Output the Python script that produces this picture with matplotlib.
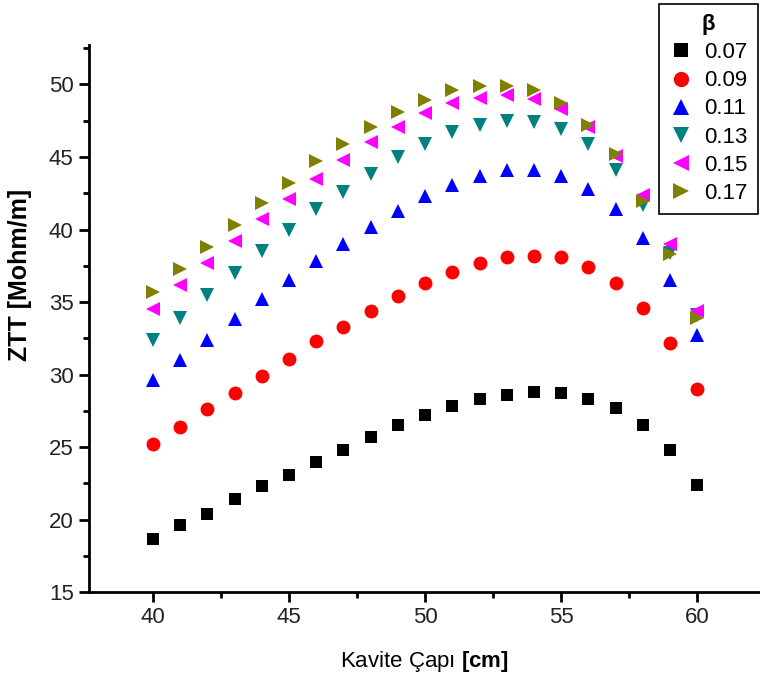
import numpy as np
import matplotlib.pyplot as plt

plt.rcParams['font.family'] = ['Liberation Sans', 'DejaVu Sans']
plt.rcParams['mathtext.fontset'] = 'custom'
plt.rcParams['mathtext.rm'] = 'Liberation Sans'
plt.rcParams['mathtext.bf'] = 'Liberation Sans:bold'

# Kavite çapı [cm]
diameter = np.arange(40, 61)

# ZTT [Mohm/m] for each beta
ztt_007 = [18.7, 19.6, 20.4, 21.4, 22.3, 23.1, 24.0, 24.8, 25.7, 26.5, 27.2,
           27.8, 28.3, 28.6, 28.8, 28.7, 28.3, 27.7, 26.5, 24.8, 22.4]
ztt_009 = [25.2, 26.4, 27.6, 28.7, 29.9, 31.1, 32.3, 33.3, 34.4, 35.4, 36.3,
           37.1, 37.7, 38.1, 38.2, 38.1, 37.4, 36.3, 34.6, 32.2, 29.0]
ztt_011 = [29.6, 31.0, 32.4, 33.8, 35.2, 36.5, 37.8, 39.0, 40.2, 41.3, 42.3,
           43.1, 43.7, 44.1, 44.1, 43.7, 42.8, 41.4, 39.4, 36.5, 32.7]
ztt_013 = [32.4, 33.9, 35.5, 37.0, 38.5, 40.0, 41.4, 42.6, 43.8, 45.0, 45.9,
           46.7, 47.2, 47.5, 47.4, 46.9, 45.9, 44.1, 41.7, 38.4, 34.1]
ztt_015 = [34.5, 36.2, 37.7, 39.2, 40.7, 42.1, 43.5, 44.8, 46.0, 47.1, 48.0,
           48.7, 49.1, 49.3, 49.0, 48.3, 47.1, 45.1, 42.4, 39.0, 34.4]
ztt_017 = [35.7, 37.3, 38.8, 40.3, 41.8, 43.2, 44.7, 45.9, 47.1, 48.1, 48.9,
           49.6, 49.9, 49.9, 49.6, 48.7, 47.2, 45.2, 42.0, 38.3, 33.9]

betas = ['0.07', '0.09', '0.11', '0.13', '0.15', '0.17']
series = [ztt_007, ztt_009, ztt_011, ztt_013, ztt_015, ztt_017]
markers = ['s', 'o', '^', 'v', '<', '>']
colors = ['black', 'red', 'blue', '#008080', '#ff00ff', '#808000']
sizes = [9, 10, 10.5, 10.5, 10.5, 10.5]

fig = plt.figure(figsize=(7.6, 6.76), dpi=100)
ax = fig.add_axes([0.117, 0.124, 0.883, 0.809])

for y, lab, m, c, s in zip(series, betas, markers, colors, sizes):
    ax.plot(diameter, y, linestyle='none', marker=m, color=c,
            markersize=s, markeredgewidth=0, label=lab)

ax.set_xlim(37.65, 62.3)
ax.set_ylim(15, 52.7)
ax.set_xticks([40, 45, 50, 55, 60])
ax.set_xticks([42.5, 47.5, 52.5, 57.5], minor=True)
ax.set_yticks([15, 20, 25, 30, 35, 40, 45, 50])
ax.set_yticks([17.5, 22.5, 27.5, 32.5, 37.5, 42.5, 47.5, 52.5], minor=True)

ax.spines['top'].set_visible(False)
ax.spines['right'].set_visible(False)
ax.spines['left'].set_linewidth(2)
ax.spines['bottom'].set_linewidth(2)
ax.tick_params(which='major', direction='out', length=7, width=2, pad=4,
               labelsize=16, colors='black', labelcolor='#222222')
ax.tick_params(which='minor', direction='out', length=4, width=2)

ax.set_xlabel(r'Kavite Çapı $\mathbf{[cm]}$', fontsize=16)
ax.set_ylabel('ZTT [Mohm/m]', fontsize=18, fontweight='bold')
ax.xaxis.set_label_coords(0.5, -0.103)
ax.yaxis.set_label_coords(-0.085, 0.58)

leg = ax.legend(title='β', loc='upper right', bbox_to_anchor=(0.997, 0.994),
                bbox_transform=fig.transFigure, fontsize=16, labelspacing=0.32,
                handletextpad=0.5, handlelength=1.1, borderpad=0.45,
                borderaxespad=0, fancybox=False, framealpha=1,
                edgecolor='black', markerscale=1.1)
leg.get_title().set_fontsize(16)
leg.get_title().set_fontweight('bold')
leg.get_frame().set_linewidth(1.2)

fig.savefig('out.png', dpi=100)
